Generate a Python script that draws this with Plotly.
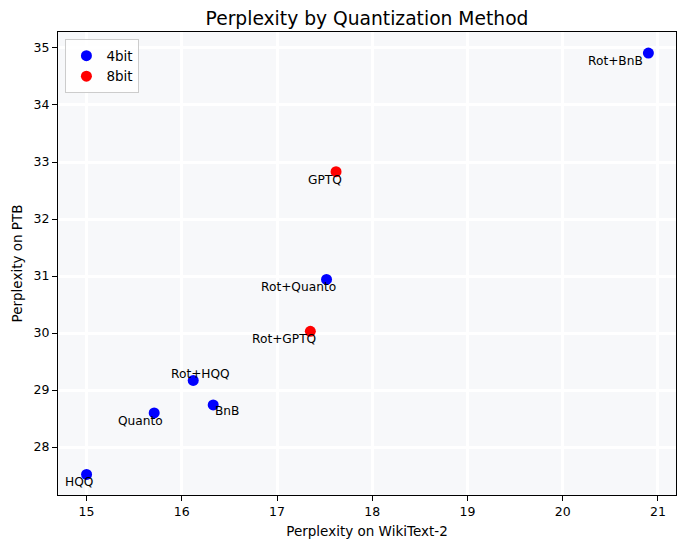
import plotly.graph_objects as go

methods = ["HQQ", "Quanto", "Rot+HQQ", "BnB", "GPTQ", "Rot+Quanto", "Rot+GPTQ", "Rot+BnB"]
bits = ["4bit", "4bit", "4bit", "4bit", "8bit", "4bit", "8bit", "4bit"]
wikitext2 = [15.00, 15.71, 16.12, 16.33, 17.62, 17.52, 17.35, 20.90]
ptb = [27.52, 28.60, 29.17, 28.74, 32.83, 30.94, 30.03, 34.91]

label_dx = [-8, -14, 7, 14, -11, -28, -26, -33]
label_dy = [-8, -8, 6, -6, -8, -8, -8, -8]

colors = {"4bit": "blue", "8bit": "red"}

W, H = 678, 540
ML, MR, MT, MB = 49, 9, 24, 53

fig = go.Figure()
for b in ["4bit", "8bit"]:
    idx = [i for i, v in enumerate(bits) if v == b]
    fig.add_trace(go.Scatter(
        x=[wikitext2[i] for i in idx],
        y=[ptb[i] for i in idx],
        mode="markers",
        name=b,
        marker=dict(color=colors[b], size=11, line=dict(width=0)),
    ))

for i, m in enumerate(methods):
    fig.add_annotation(
        x=wikitext2[i], y=ptb[i], text=m, showarrow=False,
        xshift=label_dx[i], yshift=label_dy[i],
        font=dict(family="DejaVu Sans", size=12.2, color="black"),
    )

axis_common = dict(
    showgrid=True, gridcolor="white", gridwidth=2.5,
    zeroline=False, showline=True, linecolor="black", linewidth=1, mirror=True,
    ticks="outside", ticklen=5, tickcolor="black",
    tickfont=dict(family="DejaVu Sans", size=12.5, color="black"),
    layer="above traces",
)

fig.update_layout(
    width=W, height=H,
    margin=dict(l=ML, r=MR, t=MT, b=MB),
    paper_bgcolor="white", plot_bgcolor="#f7f8fa",
    title=dict(text="Perplexity by Quantization Method",
               x=(ML + (W - ML - MR) / 2) / W, xanchor="center",
               y=1 - 10 / H, yanchor="middle",
               font=dict(family="DejaVu Sans", size=18.7, color="black")),
    xaxis=dict(range=[14.70, 21.19], dtick=1,
               title=dict(text="Perplexity on WikiText-2", standoff=8,
                          font=dict(family="DejaVu Sans", size=13.5, color="black")),
               **axis_common),
    yaxis=dict(range=[27.16, 35.28], dtick=1,
               title=dict(text="Perplexity on PTB", standoff=7,
                          font=dict(family="DejaVu Sans", size=13.5, color="black")),
               **axis_common),
    legend=dict(x=0.012, y=0.984, xanchor="left", yanchor="top",
                bgcolor="rgba(255,255,255,0.8)", bordercolor="#cccccc", borderwidth=1,
                font=dict(family="DejaVu Sans", size=13.5, color="black")),
    showlegend=True,
)

fig.write_html("out.html")
